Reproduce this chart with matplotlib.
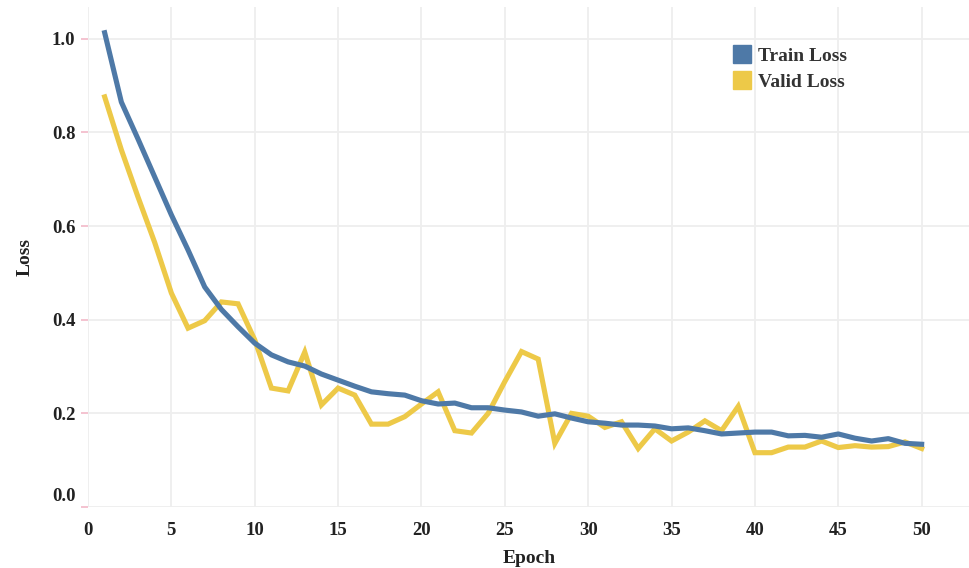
import matplotlib
matplotlib.use("Agg")
import matplotlib.pyplot as plt
from matplotlib.lines import Line2D
import matplotlib.transforms as mtransforms

epochs = list(range(1, 51))
train_loss = [1.013, 0.865, 0.786, 0.705, 0.624, 0.549, 0.470, 0.422, 0.385, 0.350,
              0.325, 0.310, 0.301, 0.284, 0.271, 0.258, 0.246, 0.242, 0.239, 0.227,
              0.220, 0.222, 0.212, 0.212, 0.207, 0.203, 0.194, 0.199, 0.190, 0.182,
              0.179, 0.175, 0.175, 0.173, 0.167, 0.169, 0.163, 0.156, 0.158, 0.160,
              0.160, 0.152, 0.153, 0.149, 0.156, 0.147, 0.141, 0.146, 0.136, 0.134]
valid_loss = [0.876, 0.763, 0.662, 0.565, 0.457, 0.382, 0.398, 0.438, 0.434, 0.357,
              0.254, 0.248, 0.331, 0.218, 0.254, 0.239, 0.177, 0.177, 0.193, 0.220,
              0.246, 0.163, 0.158, 0.200, 0.268, 0.332, 0.316, 0.136, 0.200, 0.194,
              0.170, 0.182, 0.125, 0.167, 0.141, 0.160, 0.184, 0.163, 0.215, 0.116,
              0.116, 0.128, 0.128, 0.141, 0.127, 0.131, 0.128, 0.129, 0.139, 0.125]
x_ticks = [0, 5, 10, 15, 20, 25, 30, 35, 40, 45, 50]
y_ticks = [0.0, 0.2, 0.4, 0.6, 0.8, 1.0]
series_names = ["Train Loss", "Valid Loss"]
colors = ["#4E79A7", "#EDC948"]

FONT = "Liberation Serif"

fig = plt.figure(figsize=(9.70, 5.68), dpi=100)
ax = fig.add_axes([88 / 970, 1 - 507 / 568, 1 - 88 / 970, 500 / 568])

ax.plot(epochs, train_loss, color=colors[0], lw=3.7, solid_joinstyle="round", zorder=3)
ax.plot(epochs, valid_loss, color=colors[1], lw=3.7, solid_joinstyle="miter", zorder=2)

ax.set_xticks(x_ticks)
ax.set_xticklabels([str(t) for t in x_ticks])
ax.set_yticks(y_ticks)
ax.set_yticklabels([f"{t:.1f}" for t in y_ticks])
ax.set_xlim(0, 52.9)
ax.set_ylim(0, 1.068)

for s in ax.spines.values():
    s.set_visible(False)
ax.grid(True, color="#EEEEEE", lw=1.3, zorder=0)
ax.set_axisbelow(True)

ax.tick_params(axis="x", length=0, pad=11, labelsize=13.5, labelcolor="#222222")
ax.tick_params(axis="y", length=5, width=1.2, color="#F2B9C8", pad=4, labelsize=13.5,
               labelcolor="#222222")
for lab in ax.get_xticklabels() + ax.get_yticklabels():
    lab.set_fontfamily(FONT)
    lab.set_fontweight("bold")

# lift the 0.0 label slightly like the original
ylabs = ax.get_yticklabels()
ylabs[0].set_transform(ylabs[0].get_transform() +
                       mtransforms.ScaledTranslation(0, 9 / 72, fig.dpi_scale_trans))

ax.set_xlabel("Epoch", fontfamily=FONT, fontweight="bold", fontsize=14, color="#222222",
              labelpad=8)
ax.set_ylabel("Loss", fontfamily=FONT, fontweight="bold", fontsize=14, color="#222222",
              labelpad=13)

handles = [Line2D([], [], marker="s", linestyle="none", markersize=13,
                  markerfacecolor=c, markeredgecolor=c) for c in colors]
leg = ax.legend(handles, series_names, loc="upper left",
                bbox_to_anchor=(0.715, 0.947), frameon=False,
                prop={"family": FONT, "weight": "bold", "size": 14},
                handletextpad=0.3, labelspacing=0.45, borderpad=0.2,
                handlelength=1.0)
for t in leg.get_texts():
    t.set_color("#333333")

fig.savefig("out.png", dpi=100)
